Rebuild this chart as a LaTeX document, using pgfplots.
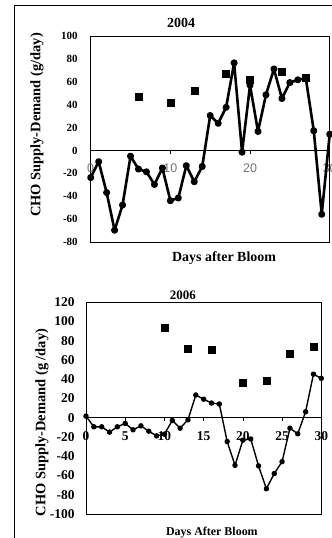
\documentclass[border=0pt]{standalone}
\usepackage{pgfplots}
\pgfplotsset{compat=1.18}
\usepackage{fontspec}
\setmainfont{Liberation Serif}
\newfontfamily\arialfont{Liberation Sans}
\begin{document}
\begin{tikzpicture}
\useasboundingbox (0bp,0bp) rectangle (332bp,538bp);
\draw[line width=1bp] (14bp,0bp) -- (14bp,532bp) -- (332bp,532bp);
% ---------------- 2004 ----------------
\begin{axis}[
  at={(90.7bp,296bp)}, anchor=south west, scale only axis,
  width=239bp, height=206bp,
  xmin=0, xmax=30, ymin=-80, ymax=100,
  axis line style={black, line width=0.8bp},
  /pgf/number format/assume math mode=true,
  clip=false,
  xtick={0,10,20,30}, ytick={-80,-60,...,100},
  xtick pos=bottom, tick align=outside, major tick length=3.5bp,
  xtick style={black, line width=0.7bp, yshift=91.6bp},
  ytick style={draw=none}, ytick pos=left,
  extra y ticks={0}, extra y tick labels={},
  extra y tick style={grid=major, major grid style={black, line width=0.8bp}},
  xticklabel style={font=\arialfont\fontsize{12.5}{14}\selectfont, text=black!55, anchor=center, yshift=91.6bp-14.5bp},
  yticklabel style={font=\bfseries\fontsize{11}{12}\selectfont, xshift=-6bp},
  title={2004},
  every axis title/.style={at={(axis description cs:0.378,1.063)}, anchor=center, font=\bfseries\fontsize{14}{16}\selectfont},
  xlabel={Days after Bloom},
  every axis x label/.style={at={(axis description cs:0.558,-0.0777)}, anchor=center, font=\bfseries\fontsize{14}{16}\selectfont},
  ylabel={CHO Supply-Demand (g/day)},
  every axis y label/.style={at={(axis description cs:-0.2247,0.568)}, anchor=center, rotate=90, font=\bfseries\fontsize{14.5}{16}\selectfont},
]
\addplot[black, line width=2.6bp, line join=round, mark=*, mark size=2.2bp, mark options={solid}] coordinates {
(0,-23.7) (1,-9.8) (2,-36.8) (3,-69.7) (4,-47.7) (5,-5) (6,-16.3) (7,-18.7) (8,-29.7) (9,-15.4)
(10,-43.9) (11,-41.5) (12,-13.3) (13,-27.3) (14,-14) (15,30.5) (16,23.7) (17,37.7) (18,76.5) (19,-1.5)
(20,57) (21,16.6) (22,48.6) (23,71.2) (24,45.4) (25,59.3) (26,61.7) (27,63.2) (28,17.2) (29,-55.8) (30,14.2)
};
\addplot[only marks, mark=square*, mark size=3.5bp, black] coordinates {
(6,46.6) (10,41.5) (13,52.5) (17,67.3) (20,61.7) (24,69) (27,63.2)
};
\end{axis}
% ---------------- 2006 ----------------
\begin{axis}[
  at={(86bp,24bp)}, anchor=south west, scale only axis,
  width=235.3bp, height=211.7bp,
  xmin=0, xmax=30, ymin=-100, ymax=120,
  axis line style={black, line width=0.8bp},
  /pgf/number format/assume math mode=true,
  clip=false,
  xtick={0,5,...,30}, ytick={-100,-80,...,120},
  xtick pos=bottom, tick align=outside, major tick length=3bp,
  xtick style={black, line width=0.6bp, yshift=96.2bp},
  ytick style={draw=none}, ytick pos=left,
  extra y ticks={0}, extra y tick labels={},
  extra y tick style={grid=major, major grid style={black, line width=0.8bp}},
  xticklabel style={font=\bfseries\fontsize{13.5}{15}\selectfont, anchor=center, yshift=96.2bp-15bp},
  yticklabel style={font=\bfseries\fontsize{13.5}{15}\selectfont, xshift=-5bp},
  title={2006},
  every axis title/.style={at={(axis description cs:0.412,1.033)}, anchor=center, font=\bfseries\fontsize{13}{15}\selectfont},
  xlabel={Days After Bloom},
  every axis x label/.style={at={(axis description cs:0.535,-0.0897)}, anchor=center, font=\bfseries\fontsize{12}{14}\selectfont},
  ylabel={CHO Supply-Demand (g /day)},
  every axis y label/.style={at={(axis description cs:-0.187,0.432)}, anchor=center, rotate=90, font=\bfseries\fontsize{14.5}{16}\selectfont},
]
\addplot[black, line width=1.4bp, line join=round, mark=*, mark size=2bp, mark options={solid}] coordinates {
(0,1.7) (1,-9.4) (2,-9.4) (3,-14.9) (4,-9.4) (5,-5.9) (6,-12.5) (7,-8.4) (8,-13.9) (9,-18.8)
(10,-17) (11,-2.8) (12,-10.8) (13,-2.1) (14,23.7) (15,19.3) (16,15.3) (17,14.3) (18,-24.7) (19,-49.4)
(20,-23.3) (21,-22) (22,-50) (23,-73.8) (24,-58) (25,-45.6) (26,-10.8) (27,-16.7) (28,6.3) (29,45.3) (30,41)
};
\addplot[only marks, mark=square*, mark size=3.5bp, black] coordinates {
(10,93.7) (13,71.4) (16,70.5) (20,36) (23,38.3) (26,66.6) (29,73.9)
};
\end{axis}
\end{tikzpicture}
\end{document}
